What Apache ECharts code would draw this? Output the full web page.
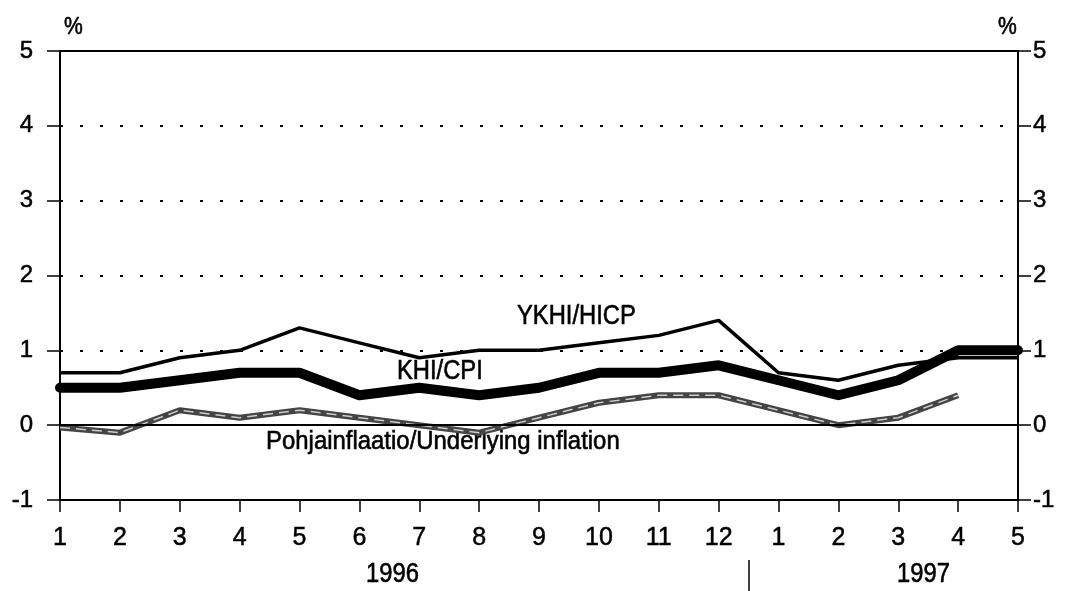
<!DOCTYPE html>
<html>
<head>
<meta charset="utf-8">
<script src="https://cdn.jsdelivr.net/npm/echarts@6/dist/echarts.min.js"></script>
<style>
  html, body { margin: 0; padding: 0; background: #fff; }
  #chart { width: 1066px; height: 591px; }
</style>
</head>
<body>
<div id="chart"></div>
<script>
// months Jan 1996 .. May 1997
var months = ['1', '2', '3', '4', '5', '6', '7', '8', '9', '10', '11', '12', '1', '2', '3', '4', '5']
var hicp = [0.7, 0.7, 0.9, 1.0, 1.3, 1.1, 0.9, 1.0, 1.0, 1.1, 1.2, 1.4, 0.7, 0.6, 0.8, 0.9, 0.9]
var cpi = [0.5, 0.5, 0.6, 0.7, 0.7, 0.4, 0.5, 0.4, 0.5, 0.7, 0.7, 0.8, 0.6, 0.4, 0.6, 1.0, 1.0]
var underlying = [-0.03, -0.1, 0.2, 0.1, 0.2, 0.1, 0.0, -0.1, 0.1, 0.3, 0.4, 0.4, 0.2, 0.0, 0.1, 0.4, null]
var yTicks = [-1, 0, 1, 2, 3, 4, 5]

var font = '"Liberation Sans", Arial, sans-serif'

// condensed, slightly heavy look of the original lettering
function label(text, x, y, size, sx) {
  return {
    type: 'text', x: x, y: y, scaleX: sx || 0.88,
    style: {
      text: text, fontSize: size, fontFamily: font, fill: '#000',
      stroke: '#000', lineWidth: 0.6, align: 'left', verticalAlign: 'top'
    }
  }
}

var chart = echarts.init(document.getElementById('chart'))

var yAxisBase = {
  type: 'value',
  min: yTicks[0],
  max: yTicks[yTicks.length - 1],
  interval: 1,
  axisLine: { show: true, lineStyle: { color: '#000', width: 2 } },
  axisTick: { show: true, length: 13, lineStyle: { color: '#000', width: 1.5 } },
  axisLabel: { color: '#000', fontSize: 24, fontFamily: font, textBorderColor: '#000', textBorderWidth: 0.5 }
}

chart.setOption({
  animation: false,
  grid: { left: 60, right: 48, top: 51, bottom: 91 },
  xAxis: [
    {
      type: 'category',
      data: months,
      boundaryGap: false,
      position: 'bottom',
      axisLine: { show: true, onZero: false, lineStyle: { color: '#000', width: 2 } },
      axisTick: { show: true, length: 12, alignWithLabel: true, lineStyle: { color: '#000', width: 1.5 } },
      axisLabel: {
        color: '#000', fontSize: 25, fontFamily: font, margin: 26, interval: 0,
        textBorderColor: '#000', textBorderWidth: 0.5
      }
    },
    {
      type: 'category',
      data: months,
      boundaryGap: false,
      position: 'top',
      axisLine: { show: true, onZero: false, lineStyle: { color: '#000', width: 2 } },
      axisTick: { show: false },
      axisLabel: { show: false }
    }
  ],
  yAxis: [
    Object.assign({}, yAxisBase, {
      position: 'left',
      axisLabel: Object.assign({}, yAxisBase.axisLabel, { margin: 27 }),
      splitLine: { show: true, lineStyle: { color: '#000', type: [3, 17], width: 2 } }
    }),
    Object.assign({}, yAxisBase, {
      position: 'right',
      axisLabel: Object.assign({}, yAxisBase.axisLabel, { margin: 15 }),
      splitLine: { show: false }
    })
  ],
  graphic: [
    label('%', 64, 15, 24),
    label('%', 998, 15, 24),
    label('1996', 366, 561, 27),
    label('1997', 897, 561, 27),
    { type: 'line', shape: { x1: 749, y1: 560, x2: 749, y2: 591 }, style: { stroke: '#000', lineWidth: 1.5 } },
    label('YKHI/HICP', 517, 303, 27),
    label('KHI/CPI', 397, 358, 27),
    label('Pohjainflaatio/Underlying inflation', 266, 429, 26, 0.92)
  ],
  series: [
    {
      name: 'YKHI/HICP',
      type: 'line',
      data: hicp,
      symbol: 'none',
      lineStyle: { color: '#000', width: 3.5 },
      markLine: {
        silent: true,
        symbol: 'none',
        label: { show: false },
        lineStyle: { color: '#000', width: 2, type: 'solid' },
        data: [{ yAxis: 0 }]
      }
    },
    {
      name: 'Pohjainflaatio/Underlying inflation',
      type: 'line',
      data: underlying,
      symbol: 'none',
      lineStyle: { color: '#444', width: 6 }
    },
    {
      name: 'Pohjainflaatio inner',
      type: 'line',
      data: underlying,
      symbol: 'none',
      lineStyle: { color: '#ccc', width: 1.5, type: [10, 6] }
    },
    {
      name: 'KHI/CPI',
      type: 'line',
      data: cpi,
      symbol: 'none',
      lineStyle: { color: '#000', width: 10, cap: 'round', join: 'round' }
    }
  ]
})
</script>
</body>
</html>
